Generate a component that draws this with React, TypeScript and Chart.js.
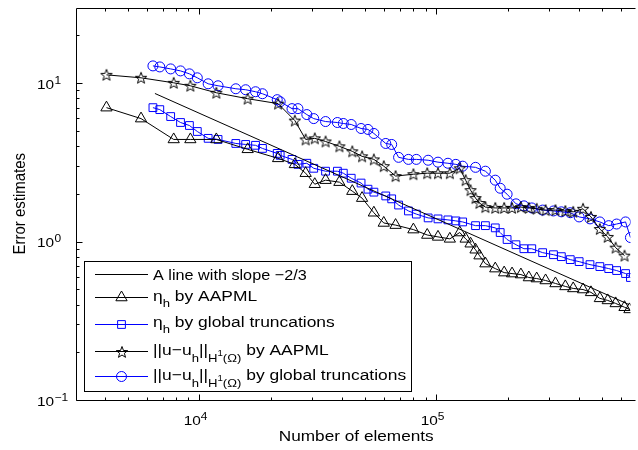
import React, { useEffect, useRef } from "react";
import { Chart, registerables } from "chart.js";

Chart.register(...registerables);

// ---------- data ----------
const elementsAAPML = [4060, 5680, 7800, 9170, 11800, 16000, 21500, 25300, 28100, 30700, 34100, 39000, 44200, 48600, 54500, 60000, 67300, 80000, 91500, 101600, 114000, 125500, 132900, 139400, 146300, 152000, 161000, 177200, 193200, 208600, 227300, 245500, 265000, 288900, 317900, 349900, 377800, 415700, 448900, 489300, 528300, 570500, 621800, 652300];
const etaAAPML = [7.0, 5.97, 4.41, 4.41, 4.41, 3.82, 3.35, 3.07, 2.7, 2.3, 2.44, 2.37, 2.08, 1.88, 1.52, 1.31, 1.27, 1.19, 1.1, 1.07, 1.04, 1.14, 1.04, 0.969, 0.888, 0.815, 0.726, 0.675, 0.637, 0.628, 0.619, 0.593, 0.584, 0.568, 0.544, 0.521, 0.506, 0.498, 0.478, 0.438, 0.425, 0.407, 0.385, 0.373];
const errAAPML = [11.27, 10.8, 10.04, 9.62, 8.69, 7.97, 7.42, 5.8, 4.41, 4.48, 4.28, 3.99, 3.71, 3.45, 3.3, 2.99, 2.59, 2.66, 2.7, 2.7, 2.7, 2.9, 2.44, 2.11, 1.88, 1.75, 1.65, 1.63, 1.63, 1.63, 1.65, 1.63, 1.61, 1.58, 1.58, 1.56, 1.54, 1.61, 1.43, 1.2, 1.07, 0.915, 0.815, null];

const elementsGlobal = [6375, 6815, 7574, 8334, 9087, 9810, 10900, 12000, 14260, 15690, 17270, 18470, 21320, 21940, 24610, 26070, 28420, 30390, 34090, 38240, 40510, 43740, 48130, 51470, 54520, 61170, 64800, 69290, 76250, 82320, 92340, 101600, 111900, 120800, 129100, 146300, 161000, 177200, 185900, 198800, 216700, 234000, 252600, 280700, 311900, 336700, 367100, 400200, 444600, 489300, 533400, 575900, 628100, 658600];
const etaGlobal = [7.0, 6.8, 6.15, 5.64, 5.4, 4.95, 4.48, 4.41, 4.16, 4.1, 4.05, 3.87, 3.6, 3.5, 3.3, 3.07, 3.12, 2.9, 2.78, 2.78, 2.7, 2.51, 2.34, 2.14, 2.05, 1.94, 1.86, 1.7, 1.56, 1.49, 1.41, 1.39, 1.37, 1.35, 1.33, 1.26, 1.26, 1.22, 1.14, 1.03, 0.955, 0.901, 0.901, 0.851, 0.826, 0.803, 0.769, 0.747, 0.715, 0.695, 0.675, 0.656, 0.628, 0.593];
const errGlobal = [12.84, 12.65, 12.29, 11.94, 11.44, 10.8, 9.9, 9.62, 9.21, 9.08, 8.82, 8.57, 7.86, 7.63, 6.9, 6.9, 6.33, 5.97, 5.72, 5.64, 5.56, 5.48, 5.17, 5.1, 4.81, 4.16, 4.1, 3.4, 3.3, 3.3, 3.26, 3.17, 3.12, 3.07, 2.99, 2.94, 2.78, 2.44, 2.17, 1.99, 1.73, 1.68, 1.63, 1.58, 1.56, 1.54, 1.52, 1.43, 1.39, 1.33, 1.26, 1.29, 1.33, 1.06];

const slopeX = [6500, 650000];
const slopeY = [8.6, 0.4];

const xRange = [3020, 659000];
const yRange = [0.1, 30];

const yMajorTicks = [0.1, 1, 10];
const yMajorExps = ["\u22121", "0", "1"];
const yMinorTicks = [0.2, 0.3, 0.4, 0.5, 0.6, 0.7, 0.8, 0.9, 2, 3, 4, 5, 6, 7, 8, 9, 20];
const xMajorTicks = [10000, 100000];
const xMajorExps = ["4", "5"];
const xMinorTicks = [4000, 5000, 6000, 7000, 8000, 9000, 20000, 30000, 40000, 50000, 60000, 70000, 80000, 90000, 200000, 300000, 400000, 500000, 600000];

const xTitle = "Number of elements";
const yTitle = "Error estimates";

// legend labels: [text, level] level 0 = normal, 1 = subscript, 2 = superscript of subscript
const legendRows: [string, number][][] = [
  [["A line with slope \u22122/3", 0]],
  [["\u03b7", 0], ["h", 1], [" by AAPML", 0]],
  [["\u03b7", 0], ["h", 1], [" by global truncations", 0]],
  [["||u\u2212u", 0], ["h", 1], ["||", 0], ["H", 1], ["1", 2], ["(\u03a9)", 1], [" by AAPML", 0]],
  [["||u\u2212u", 0], ["h", 1], ["||", 0], ["H", 1], ["1", 2], ["(\u03a9)", 1], [" by global truncations", 0]],
];

const BLUE = "#0000ff";
const FAMILY = '"Liberation Sans", Arial, Helvetica, sans-serif';

function pts(xs: number[], ys: (number | null)[]) {
  const out: { x: number; y: number }[] = [];
  xs.forEach((x, i) => {
    const y = ys[i];
    if (y !== null && y !== undefined) out.push({ x, y });
  });
  return out;
}

function makeStar(): HTMLCanvasElement {
  const c = document.createElement("canvas");
  c.width = 14;
  c.height = 14;
  const g = c.getContext("2d")!;
  g.translate(7, 7.5);
  g.beginPath();
  for (let i = 0; i < 10; i++) {
    const r = i % 2 === 0 ? 6.0 : 2.5;
    const a = -Math.PI / 2 + (i * Math.PI) / 5;
    const px = r * Math.cos(a);
    const py = r * Math.sin(a);
    if (i === 0) g.moveTo(px, py);
    else g.lineTo(px, py);
  }
  g.closePath();
  g.strokeStyle = "#000";
  g.lineWidth = 1;
  g.stroke();
  return c;
}

function drawText(ctx: CanvasRenderingContext2D, s: string, x: number, y: number, size: number, align: CanvasTextAlign = "left", sx = 1.14) {
  ctx.save();
  ctx.font = `${size}px ${FAMILY}`;
  ctx.textBaseline = "alphabetic";
  ctx.textAlign = align;
  ctx.fillStyle = "#000";
  ctx.translate(x, y);
  ctx.scale(sx, 1);
  ctx.fillText(s, 0, 0);
  ctx.restore();
}

function textW(ctx: CanvasRenderingContext2D, s: string, size: number, sx = 1.14) {
  ctx.save();
  ctx.font = `${size}px ${FAMILY}`;
  const w = ctx.measureText(s).width * sx;
  ctx.restore();
  return w;
}

function marker(ctx: CanvasRenderingContext2D, kind: string, x: number, y: number, color: string, star: HTMLCanvasElement) {
  ctx.save();
  ctx.strokeStyle = color;
  ctx.lineWidth = 1;
  ctx.beginPath();
  if (kind === "triangle") {
    const r = 6.5;
    for (let i = 0; i < 3; i++) {
      const a = (i * 2 * Math.PI) / 3;
      const px = x + Math.sin(a) * r;
      const py = y - Math.cos(a) * r;
      if (i === 0) ctx.moveTo(px, py);
      else ctx.lineTo(px, py);
    }
    ctx.closePath();
    ctx.stroke();
  } else if (kind === "rect") {
    const s = 5.5 * Math.SQRT1_2;
    ctx.rect(x - s, y - s, 2 * s, 2 * s);
    ctx.stroke();
  } else if (kind === "circle") {
    ctx.arc(x, y, 5, 0, Math.PI * 2);
    ctx.stroke();
  } else if (kind === "star") {
    ctx.drawImage(star, Math.round(x - star.width / 2), Math.round(y - star.height / 2));
  }
  ctx.restore();
}

export default function App() {
  const ref = useRef<HTMLCanvasElement>(null);

  useEffect(() => {
    const canvas = ref.current!;
    const star = makeStar();

    const axesPlugin = {
      id: "matlabAxes",
      afterDatasetsDraw(chart: any) {
        const ctx: CanvasRenderingContext2D = chart.ctx;
        const ca = chart.chartArea;
        const xs = chart.scales.x;
        const ys = chart.scales.y;
        const L = Math.round(ca.left) + 0.5;
        const T = Math.round(ca.top) + 0.5;
        const B = Math.round(ca.bottom) + 0.5;
        const R = ca.right + 5;
        ctx.save();
        ctx.strokeStyle = "#000";
        ctx.lineWidth = 1;
        ctx.beginPath();
        ctx.moveTo(R, T);
        ctx.lineTo(L, T);
        ctx.lineTo(L, B);
        ctx.lineTo(R, B);
        yMajorTicks.forEach((v) => {
          const p = Math.round(ys.getPixelForValue(v)) + 0.5;
          ctx.moveTo(L, p);
          ctx.lineTo(L + 6, p);
        });
        yMinorTicks.forEach((v) => {
          const p = Math.round(ys.getPixelForValue(v)) + 0.5;
          ctx.moveTo(L, p);
          ctx.lineTo(L + 3, p);
        });
        xMajorTicks.forEach((v) => {
          const p = Math.round(xs.getPixelForValue(v)) + 0.5;
          ctx.moveTo(p, T);
          ctx.lineTo(p, T + 6);
          ctx.moveTo(p, B);
          ctx.lineTo(p, B - 6);
        });
        xMinorTicks.forEach((v) => {
          const p = Math.round(xs.getPixelForValue(v)) + 0.5;
          ctx.moveTo(p, T);
          ctx.lineTo(p, T + 3);
          ctx.moveTo(p, B);
          ctx.lineTo(p, B - 3);
        });
        ctx.stroke();

        yMajorTicks.forEach((v, i) => {
          const p = ys.getPixelForValue(v);
          drawText(ctx, "10", 54, p + 5.8, 13.5, "right");
          drawText(ctx, yMajorExps[i], 54.5, p + 0.5, 10.5, "left");
        });
        xMajorTicks.forEach((v, i) => {
          const p = xs.getPixelForValue(v);
          drawText(ctx, "10", p + 1.5, 425, 13.5, "right");
          drawText(ctx, xMajorExps[i], p + 1.5, 419.5, 10.5, "left");
        });

        drawText(ctx, xTitle, (ca.left + ca.right) / 2 + 3, 440.5, 15.1, "center");
        ctx.save();
        ctx.translate(25, (ca.top + ca.bottom) / 2);
        ctx.rotate(-Math.PI / 2);
        ctx.scale(1.07, 1.12);
        ctx.font = `14px ${FAMILY}`;
        ctx.textAlign = "center";
        ctx.textBaseline = "alphabetic";
        ctx.fillStyle = "#000";
        ctx.fillText(yTitle, 0, 0);
        ctx.restore();
        ctx.restore();
      },
    };

    const legendPlugin = {
      id: "matlabLegend",
      afterDraw(chart: any) {
        const ctx: CanvasRenderingContext2D = chart.ctx;
        const bx = 84.5, by = 261.5, bw = 327, bh = 130;
        ctx.save();
        ctx.fillStyle = "#fff";
        ctx.fillRect(bx, by, bw, bh);
        ctx.strokeStyle = "#000";
        ctx.lineWidth = 1;
        ctx.strokeRect(bx, by, bw, bh);
        const lineYs = [274.5, 297.5, 324.5, 351.5, 376.5];
        const baseYs = [280, 300.5, 326.8, 355, 380];
        const rowSx = [1.06, 1.14, 1.14, 1.14, 1.14];
        const colors = ["#000", "#000", BLUE, "#000", BLUE];
        const kinds = ["none", "triangle", "rect", "star", "circle"];
        const sizes = [15.3, 11.5, 8.5];
        const dys = [0, 6.5, 1];
        legendRows.forEach((row, i) => {
          const ly = lineYs[i];
          ctx.strokeStyle = colors[i];
          ctx.lineWidth = 1;
          ctx.beginPath();
          ctx.moveTo(95, ly);
          ctx.lineTo(148, ly);
          ctx.stroke();
          marker(ctx, kinds[i], 121.5, ly, colors[i], star);
          let x = 153;
          row.forEach(([s, lvl]) => {
            drawText(ctx, s, x, baseYs[i] + dys[lvl], sizes[lvl], "left", rowSx[i]);
            x += textW(ctx, s, sizes[lvl], rowSx[i]);
          });
        });
        ctx.restore();
      },
    };

    const common = { showLine: true, borderWidth: 1, tension: 0, pointBorderWidth: 1, pointBackgroundColor: "rgba(0,0,0,0)", pointHoverRadius: 0 };

    const chart = new Chart(canvas, {
      type: "scatter",
      data: {
        datasets: [
          { ...common, label: "A line with slope -2/3", data: pts(slopeX, slopeY), borderColor: "#000", pointRadius: 0 },
          { ...common, label: "eta_h by AAPML", data: pts(elementsAAPML, etaAAPML), borderColor: "#000", pointBorderColor: "#000", pointStyle: "triangle", pointRadius: 6.5 },
          { ...common, label: "eta_h by global truncations", data: pts(elementsGlobal, etaGlobal), borderColor: BLUE, pointBorderColor: BLUE, pointStyle: "rect", pointRadius: 5.5 },
          { ...common, label: "||u-u_h|| by AAPML", data: pts(elementsAAPML, errAAPML), borderColor: "#000", pointBorderColor: "#000", pointStyle: star, pointRadius: 6 },
          { ...common, label: "||u-u_h|| by global truncations", data: pts(elementsGlobal, errGlobal), borderColor: BLUE, pointBorderColor: BLUE, pointStyle: "circle", pointRadius: 5 },
        ],
      },
      options: {
        animation: false,
        responsive: false,
        devicePixelRatio: 1,
        layout: { padding: { left: 76, top: 5, right: 0, bottom: 50 } },
        scales: {
          x: { type: "logarithmic", min: xRange[0], max: xRange[1], display: false },
          y: { type: "logarithmic", min: yRange[0], max: yRange[1], display: false },
        },
        plugins: { legend: { display: false }, tooltip: { enabled: false } },
        events: [],
      } as any,
      plugins: [axesPlugin, legendPlugin],
    });
    return () => chart.destroy();
  }, []);

  return (
    <div style={{ position: "absolute", left: 0, top: 0, width: 638, height: 450, overflow: "hidden", background: "#fff" }}>
      <canvas ref={ref} width={638} height={450} style={{ display: "block", width: 638, height: 450 }} />
    </div>
  );
}
